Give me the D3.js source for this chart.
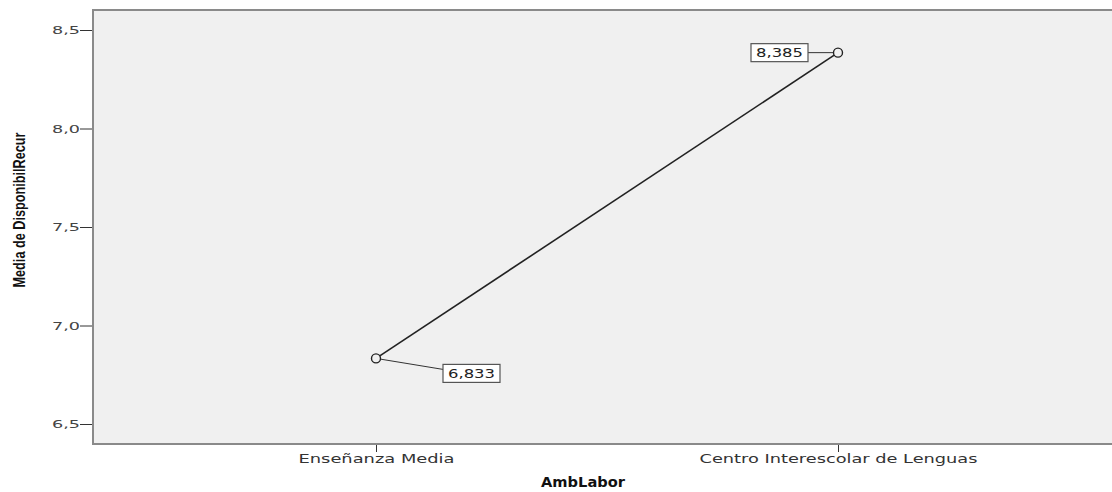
<!DOCTYPE html>
<html><head><meta charset="utf-8">
<script src="https://cdn.jsdelivr.net/npm/d3@7"></script>
<style>body{margin:0;background:#fff}svg{display:block}</style>
</head><body>
<svg id="c" width="1112" height="492"></svg>
<script>
const categories = ["Enseñanza Media", "Centro Interescolar de Lenguas"];
const means = [6.833, 8.385];
const meanLabels = ["6,833", "8,385"];
const yTicks = [6.5, 7.0, 7.5, 8.0, 8.5];
const yTickLabels = ["6,5", "7,0", "7,5", "8,0", "8,5"];
const xTitle = "AmbLabor";
const yTitle = "Media de DisponibilRecur";

const svg = d3.select("#c");
const plot = {left: 93, top: 10, right: 1116, bottom: 444};

const y = d3.scaleLinear().domain([6.5, 8.5]).range([424, 30]);
const x = d3.scalePoint().domain(categories).range([376, 838]);

svg.append("rect").attr("x", plot.left).attr("y", plot.top)
  .attr("width", plot.right - plot.left).attr("height", plot.bottom - plot.top)
  .attr("fill", "#f0f0f0").attr("stroke", "#8a8a8a").attr("stroke-width", 2);

// y axis
const yAxis = d3.axisLeft(y).tickValues(yTicks).tickSize(12)
  .tickFormat((d, i) => yTickLabels[i]);
const gy = svg.append("g").attr("transform", `translate(${plot.left - 1},0)`).call(yAxis);
gy.select(".domain").remove();
gy.selectAll(".tick line").attr("stroke", "#333");
gy.selectAll(".tick text").attr("font-family", "DejaVu Sans, Verdana, sans-serif")
  .attr("font-size", 11).attr("fill", "#444").attr("x", -12).attr("dy", "0.35em")
  .attr("textLength", 28).attr("lengthAdjust", "spacingAndGlyphs");

// x axis
const xAxis = d3.axisBottom(x).tickSize(7).tickSizeOuter(0);
const gx = svg.append("g").attr("transform", `translate(0,${plot.bottom + 1})`).call(xAxis);
gx.select(".domain").remove();
gx.selectAll(".tick line").attr("stroke", "#333");
const xLens = [156, 278];
gx.selectAll(".tick text").attr("font-family", "DejaVu Sans, Verdana, sans-serif")
  .attr("font-size", 11.5).attr("fill", "#333").attr("y", 10).attr("dy", "0.71em")
  .attr("textLength", (d, i) => xLens[i]).attr("lengthAdjust", "spacingAndGlyphs");

// titles
svg.append("text").attr("x", 583).attr("y", 487).attr("text-anchor", "middle")
  .attr("font-family", "DejaVu Sans, Verdana, sans-serif").attr("font-weight", "bold")
  .attr("font-size", 14).attr("fill", "#111").attr("textLength", 84)
  .attr("lengthAdjust", "spacingAndGlyphs").text(xTitle);
svg.append("text").attr("transform", "translate(25,210) rotate(-90)").attr("text-anchor", "middle")
  .attr("font-family", "Liberation Sans Narrow, Arial Narrow, Liberation Sans, sans-serif")
  .attr("font-weight", "bold").attr("font-size", 17).attr("fill", "#111")
  .attr("textLength", 155).attr("lengthAdjust", "spacingAndGlyphs").text(yTitle);

// line
const line = d3.line().x((d, i) => x(categories[i])).y(d => y(d));
svg.append("path").datum(means).attr("d", line).attr("fill", "none")
  .attr("stroke", "#222").attr("stroke-width", 1.6);

// label boxes & leaders (offsets relative to the point)
const labelOffsets = [[67, 15], [-30, 0]];
means.forEach((v, i) => {
  const px = x(categories[i]), py = y(v);
  const [dx, dy] = labelOffsets[i];
  const bw = 57, bh = 18;
  const bx = dx > 0 ? px + dx : px + dx - bw;
  const by = py + dy - bh / 2;
  const lx = dx > 0 ? bx : bx + bw;
  const ly = dx > 0 ? by + 5 : py;
  svg.append("line").attr("x1", px).attr("y1", py).attr("x2", lx).attr("y2", ly)
    .attr("stroke", "#333").attr("stroke-width", 1);
  svg.append("rect").attr("x", bx).attr("y", by).attr("width", bw).attr("height", bh)
    .attr("fill", "#fff").attr("stroke", "#555").attr("stroke-width", 1.2);
  svg.append("text").attr("x", bx + bw / 2).attr("y", by + bh / 2).attr("dy", "0.36em")
    .attr("text-anchor", "middle").attr("font-family", "DejaVu Sans, Verdana, sans-serif")
    .attr("font-size", 12).attr("fill", "#222").attr("textLength", 47)
    .attr("lengthAdjust", "spacingAndGlyphs").text(meanLabels[i]);
});

// markers
svg.selectAll("circle.pt").data(means).join("circle").attr("class", "pt")
  .attr("cx", (d, i) => x(categories[i])).attr("cy", d => y(d)).attr("r", 4.5)
  .attr("fill", "#f0f0f0").attr("stroke", "#222").attr("stroke-width", 1.4);
</script>
</body></html>
